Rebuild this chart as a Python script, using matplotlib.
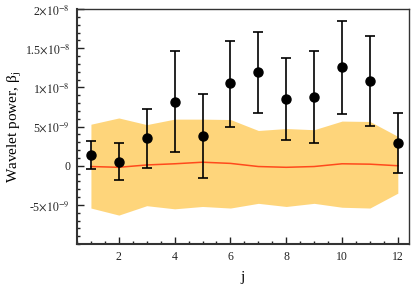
import numpy as np
import matplotlib
matplotlib.use('Agg')
import matplotlib.pyplot as plt
from matplotlib.ticker import MultipleLocator

plt.rcParams['font.family'] = ['Liberation Serif', 'DejaVu Serif']
plt.rcParams['mathtext.fontset'] = 'stix'

# data (units of 1e-9)
j = np.arange(1, 13)
beta = [1.4, 0.5, 3.5, 8.2, 3.85, 10.5, 12.0, 8.5, 8.8, 12.6, 10.8, 2.9]
beta_hi = [3.1, 2.9, 7.3, 14.6, 9.2, 15.9, 17.1, 13.8, 14.6, 18.5, 16.6, 6.7]
beta_lo = [-0.4, -1.8, -0.3, 1.7, -1.6, 5.0, 6.75, 3.25, 2.95, 6.6, 5.1, -0.95]
band_hi = [5.3, 6.1, 5.25, 5.95, 5.95, 5.9, 4.5, 4.75, 4.6, 5.7, 5.65, 3.75]
band_lo = [-5.4, -6.3, -5.1, -5.5, -5.2, -5.4, -4.8, -5.2, -4.8, -5.3, -5.4, -3.5]
median = [-0.1, -0.2, 0.1, 0.25, 0.45, 0.3, -0.1, -0.2, -0.1, 0.25, 0.2, 0.0]

sc = 1e-9
beta = np.array(beta) * sc
yerr = [beta - np.array(beta_lo) * sc, np.array(beta_hi) * sc - beta]

fig = plt.figure(figsize=(4.15, 2.93), dpi=100)
ax = fig.add_axes([0.1855, 0.167, 0.80, 0.802])

ax.fill_between(j, np.array(band_lo) * sc, np.array(band_hi) * sc,
                color='#fed57b', lw=0, zorder=1)
ax.plot(j, np.array(median) * sc, color='#ff4a1c', lw=1.1, zorder=2)
ax.errorbar(j, beta, yerr=yerr, fmt='o', color='black', ms=6.5,
            capsize=3.5, elinewidth=1.2, capthick=1.2, zorder=3)

ax.set_xlim(0.5, 12.4)
ax.set_ylim(-1e-8, 2e-8)

yt = [-5e-9, 0, 5e-9, 1e-8, 1.5e-8, 2e-8]
ylabels = [r'-5$\times10^{-9}$', '0', r'5$\times10^{-9}$', r'1$\times10^{-8}$',
           r'1.5$\times10^{-8}$', r'2$\times10^{-8}$']
ax.set_yticks(yt)
ax.set_yticklabels(ylabels)
ax.yaxis.set_minor_locator(MultipleLocator(1e-9))
ax.set_xticks([2, 4, 6, 8, 10, 12])
ax.xaxis.set_minor_locator(MultipleLocator(0.5))

ax.tick_params(which='both', direction='in', top=False, right=False,
               labelsize=8.5, width=1.0, colors='#222222', pad=5)
ax.tick_params(which='major', length=5)
ax.tick_params(which='minor', length=2.5)
for s in ax.spines.values():
    s.set_linewidth(1.0)
    s.set_color('#333333')
ax.spines['left'].set_linewidth(1.5)
ax.spines['bottom'].set_linewidth(1.5)

ax.set_xlabel('j', fontsize=11, labelpad=6)
ax.set_ylabel(r'Wavelet power, β$_\mathrm{j}$', fontsize=11)
ax.yaxis.set_label_coords(-0.16, 0.5)

fig.savefig('out.png', dpi=100)
